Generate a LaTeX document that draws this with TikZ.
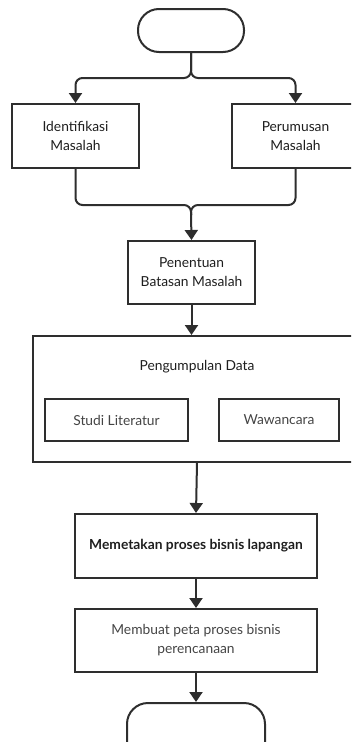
\documentclass[tikz,border=0pt]{standalone}
\usepackage{fontspec}
\setmainfont{Lato}
\usetikzlibrary{arrows.meta}
\definecolor{ink}{HTML}{2E2E2E}
\definecolor{txt}{HTML}{1E1E1E}
\definecolor{soft}{HTML}{444444}
\newcommand{\labelfont}{\fontsize{13.8}{19}\selectfont}
\begin{document}
\begin{tikzpicture}[x=1pt,y=-1pt,
  flow/.style={line width=2pt,draw=ink,rounded corners=7pt,-{Triangle[width=13pt,length=10pt]}},
  link/.style={line width=2pt,draw=ink,rounded corners=7pt},
  proc/.style={draw=ink,line width=2pt,rectangle,inner sep=0pt,align=center,text=txt,font=\labelfont},
  subproc/.style={proc,text=soft},
  term/.style={draw=ink,line width=2pt,rounded corners=21pt,inner sep=0pt}]
\useasboundingbox (0,0) rectangle (351,742);
\clip (0,0) rectangle (351,742);

% start / end terminators
\node[term,minimum width=106pt,minimum height=43pt] (start) at (191,30.5) {};
\node[term,minimum width=138pt,minimum height=60pt] (stop) at (196,733) {};

% problem identification
\node[proc,minimum width=127pt,minimum height=64pt] (ident) at (75.5,136) {Identifikasi\\Masalah};
\node[proc,minimum width=127pt,minimum height=64pt] (rumus) at (295.5,136) {Perumusan\\Masalah};
\node[proc,minimum width=127pt,minimum height=63pt] (batas) at (191.5,272.5) {Penentuan\\Batasan Masalah};

% data collection group
\node[proc,minimum width=328pt,minimum height=126pt] (data) at (197,399) {};
\node[text=txt,font=\labelfont] (datalbl) at (197,367) {Pengumpulan Data};
\node[subproc,minimum width=143pt,minimum height=42pt] (studi) at (116.5,420) {Studi Literatur};
\node[subproc,minimum width=120pt,minimum height=42pt] (wawan) at (279,420) {Wawancara};

% mapping steps
\node[proc,minimum width=242pt,minimum height=64pt,font=\labelfont\bfseries] (lapangan) at (196,546) {Memetakan proses bisnis lapangan};
\node[subproc,minimum width=242pt,minimum height=63pt] (rencana) at (196,640.5) {Membuat peta proses bisnis\\perencanaan};

% split after start
\coordinate (split) at (191,78);
\draw[flow] (start.south) -- (split) -| (ident.north);
\draw[flow] (start.south) -- (split) -| (rumus.north);

% merge before the scope step
\coordinate (merge) at (191,205);
\draw[link] (ident.south) |- (merge) -- (191,215);
\draw[link] (rumus.south) |- (merge) -- (191,215);
\draw[flow] (191,214) -- (batas.north);

\draw[flow] (batas.south) -- (batas.south |- data.north);
\draw[flow] (data.south) -- (lapangan.north);
\draw[flow] (lapangan.south) -- (rencana.north);
\draw[flow] (rencana.south) -- (stop.north);
\end{tikzpicture}
\end{document}
